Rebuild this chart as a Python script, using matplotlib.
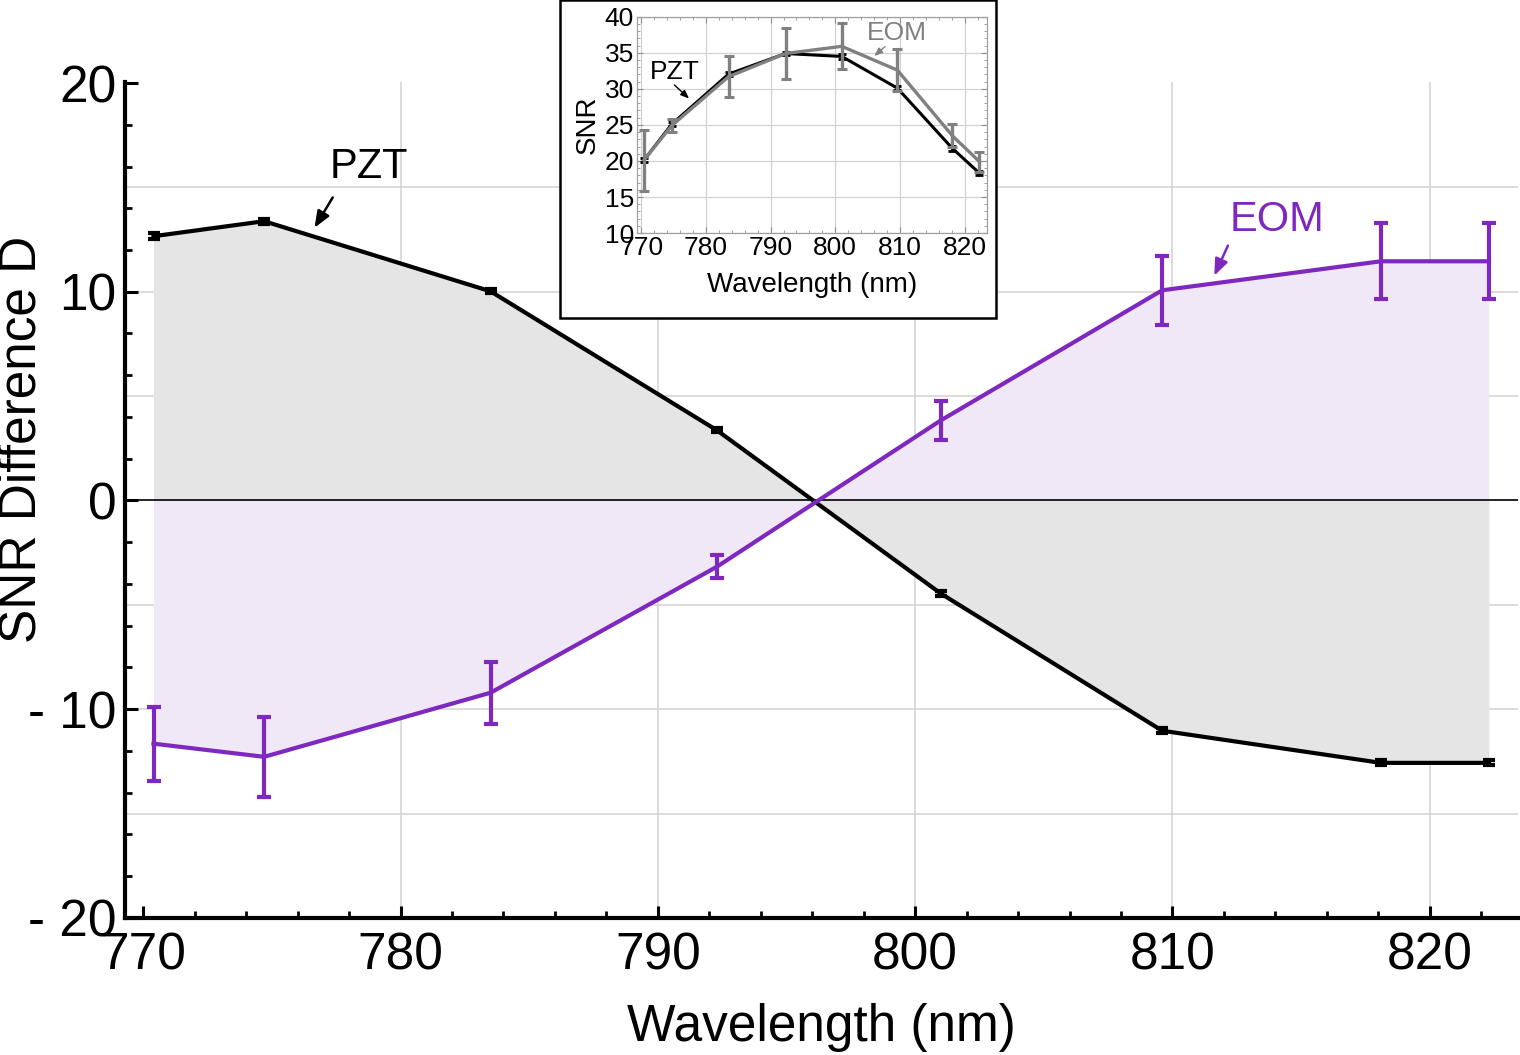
import numpy as np
import matplotlib
matplotlib.use("Agg")
import matplotlib.pyplot as plt
from matplotlib.ticker import MultipleLocator, FuncFormatter
from matplotlib.patches import Rectangle

plt.rcParams["font.family"] = ["Liberation Sans", "DejaVu Sans"]

# -----------------------------
# Data
# -----------------------------
WAVELENGTH = [770.4, 774.7, 783.5, 792.3, 801.0, 809.6, 818.1, 822.3]

# main panel: SNR difference D
PZT_D = [12.66, 13.38, 10.02, 3.36, -4.46, -11.03, -12.57, -12.57]
PZT_D_ERR = [0.15, 0.12, 0.1, 0.1, 0.12, 0.12, 0.12, 0.12]
EOM_D = [-11.65, -12.28, -9.21, -3.17, 3.84, 10.07, 11.46, 11.46]
EOM_D_ERR = [1.77, 1.92, 1.49, 0.55, 0.94, 1.65, 1.82, 1.82]

# inset: absolute SNR
PZT_SNR = [20.1, 25.1, 32.05, 34.9, 34.5, 30.1, 21.75, 18.3]
PZT_SNR_ERR = [0.3, 0.3, 0.3, 0.2, 0.3, 0.3, 0.3, 0.3]
EOM_SNR = [20.1, 24.9, 31.7, 34.9, 35.9, 32.6, 23.5, 19.9]
EOM_SNR_ERR = [4.2, 0.9, 2.85, 3.6, 3.2, 2.95, 1.6, 1.4]

PURPLE = "#7E28C0"
PURPLE_FILL = "#F0E8F7"
GRAY_FILL = "#E5E5E5"
GRID = "#D2D2D2"
INSET_GRAY = "#808080"

XLIM = (769.29, 823.43)


def minus_space(v, pos):
    if v < 0:
        return "- %d" % abs(v)
    return "%d" % v


fig = plt.figure(figsize=(15.2, 10.55), dpi=100)

# -----------------------------
# Main axes
# -----------------------------
ax = fig.add_axes([0.0822, 0.1299, 0.9165, 0.7924])

for gx in [780, 790, 800, 810, 820]:
    ax.axvline(gx, color=GRID, lw=1.1, zorder=0)
for gy in [-15, -10, -5, 5, 10, 15]:
    ax.axhline(gy, color=GRID, lw=1.1, zorder=0)

ax.fill_between(WAVELENGTH, PZT_D, 0, color=GRAY_FILL, lw=0, zorder=1)
ax.fill_between(WAVELENGTH, EOM_D, 0, color=PURPLE_FILL, lw=0, zorder=1)
ax.axhline(0, color="black", lw=1.2, zorder=2)

ax.errorbar(WAVELENGTH, PZT_D, yerr=PZT_D_ERR, color="black", lw=3,
            elinewidth=3, capsize=4, capthick=3, zorder=3)
ax.errorbar(WAVELENGTH, EOM_D, yerr=EOM_D_ERR, color=PURPLE, lw=3,
            elinewidth=3, capsize=5, capthick=3, zorder=4)

ax.text(778.78, 15.97, "PZT", fontsize=30, ha="center", va="center")
ax.annotate("", xy=(776.6, 12.95), xytext=(777.42, 14.63),
            arrowprops=dict(arrowstyle="-|>,head_length=1.0,head_width=0.4",
                            color="black", lw=1.8))
ax.text(814.07, 13.43, "EOM", fontsize=30, ha="center", va="center",
        color=PURPLE)
ax.annotate("", xy=(811.58, 10.65), xytext=(812.2, 12.33),
            arrowprops=dict(arrowstyle="-|>,head_length=1.0,head_width=0.4",
                            color=PURPLE, lw=1.8))

ax.set_xlim(*XLIM)
ax.set_ylim(-20, 20.05)
ax.xaxis.set_major_locator(MultipleLocator(10))
ax.xaxis.set_minor_locator(MultipleLocator(2))
ax.yaxis.set_major_locator(MultipleLocator(10))
ax.yaxis.set_minor_locator(MultipleLocator(2))
ax.yaxis.set_major_formatter(FuncFormatter(minus_space))
ax.tick_params(which="major", direction="in", length=9, width=2.2,
               labelsize=37, pad=6)
ax.tick_params(which="minor", direction="in", length=5, width=2)
ax.tick_params(axis="x", pad=10)
for side in ["top", "right"]:
    ax.spines[side].set_visible(False)
for side in ["left", "bottom"]:
    ax.spines[side].set_linewidth(3)

ax.set_xlabel("Wavelength (nm)", fontsize=37, labelpad=16)
ax.set_ylabel("SNR Difference D", fontsize=37, va="center")
ax.yaxis.set_label_coords(-0.074, 0.572)

# -----------------------------
# Inset
# -----------------------------
fig.patches.append(Rectangle((0.3684, 0.6986), 0.2868, 0.3010,
                             transform=fig.transFigure, facecolor="white",
                             edgecolor="black", lw=1.8, zorder=5))

ins = fig.add_axes([0.4189, 0.7791, 0.2303, 0.2050], zorder=6)
ins.grid(True, color=GRID, lw=0.9)
ins.set_axisbelow(True)

ins.errorbar(WAVELENGTH, PZT_SNR, yerr=PZT_SNR_ERR, color="black", lw=2.2,
             elinewidth=2, capsize=3, capthick=2, zorder=3)
ins.errorbar(WAVELENGTH, EOM_SNR, yerr=EOM_SNR_ERR, color=INSET_GRAY, lw=2.4,
             elinewidth=2.4, capsize=3.5, capthick=2.2, zorder=4)

ins.text(775.13, 32.33, "PZT", fontsize=19, ha="center", va="center")
ins.annotate("", xy=(777.7, 28.4), xytext=(774.8, 30.8),
             arrowprops=dict(arrowstyle="-|>,head_length=0.5,head_width=0.2",
                             color="black", lw=1))
ins.text(809.5, 37.7, "EOM", fontsize=19, ha="center", va="center",
         color=INSET_GRAY)
ins.annotate("", xy=(805.7, 34.3), xytext=(808.0, 36.1),
             arrowprops=dict(arrowstyle="-|>,head_length=0.5,head_width=0.2",
                             color=INSET_GRAY, lw=1))

ins.set_xlim(*XLIM)
ins.set_ylim(10, 40)
ins.xaxis.set_major_locator(MultipleLocator(10))
ins.xaxis.set_minor_locator(MultipleLocator(2))
ins.yaxis.set_major_locator(MultipleLocator(5))
ins.yaxis.set_minor_locator(MultipleLocator(1))
ins.tick_params(which="both", direction="in", top=True, right=True,
                color="#909090")
ins.tick_params(which="major", length=4, width=0.8, labelsize=19, pad=2)
ins.tick_params(which="minor", length=2, width=0.6)
for s in ins.spines.values():
    s.set_color("#A0A0A0")
    s.set_linewidth(0.9)
ins.set_xlabel("Wavelength (nm)", fontsize=20, labelpad=9)
ins.set_ylabel("SNR", fontsize=20, labelpad=3)

fig.savefig("out.png", dpi=100)
